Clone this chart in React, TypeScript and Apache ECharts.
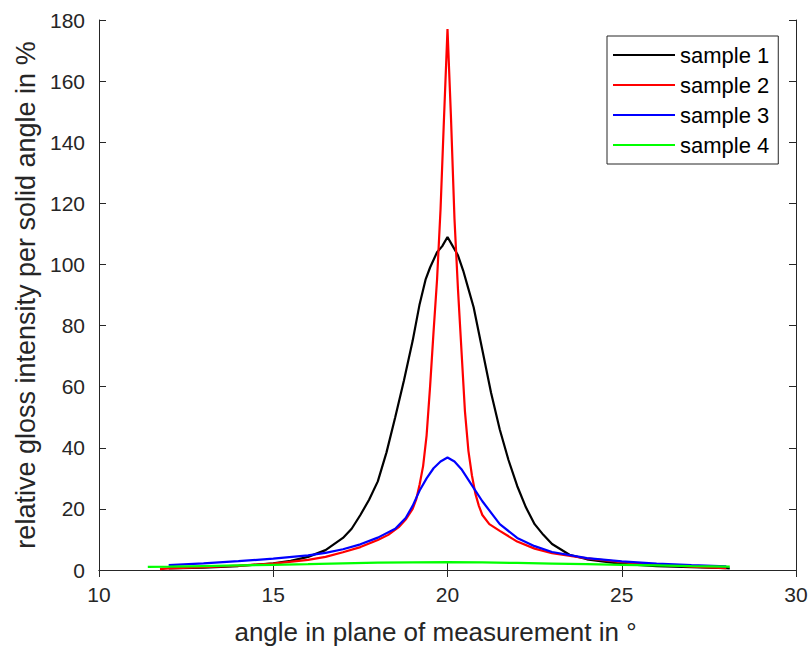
import React, { useEffect, useRef } from "react";
import * as echarts from "echarts";

const seriesNames = ["sample 1", "sample 2", "sample 3", "sample 4"];
const seriesColors = ["#000000", "#ff0000", "#0000ff", "#00ff00"];

const s1X = [12, 13, 14, 15, 15.5, 16, 16.5, 17, 17.25, 17.5, 17.75, 18, 18.25, 18.5, 18.75, 19, 19.2, 19.37, 19.5, 19.7, 19.85, 20, 20.15, 20.3, 20.45, 20.6, 20.75, 21, 21.25, 21.5, 21.75, 22, 22.25, 22.5, 22.75, 23, 23.5, 24, 25, 26, 27, 28, 28.1];
const s1Y = [0.5, 0.8, 1.3, 2.2, 3, 4.3, 6.5, 10.5, 13.5, 18, 23, 29, 38.5, 50, 62, 75, 87, 95, 99, 104, 106, 109, 106, 103, 98, 92, 86, 72, 58, 46, 36, 27.5, 20.5, 15, 11.5, 8.5, 5, 3.5, 2, 1.3, 0.9, 0.6, 0.5];

const s2X = [11.75, 12, 13, 14, 15, 16, 16.5, 17, 17.5, 18, 18.3, 18.6, 18.8, 19, 19.1, 19.2, 19.3, 19.4, 19.5, 19.6, 19.7, 19.8, 19.9, 20, 20.1, 20.2, 20.3, 20.4, 20.5, 20.6, 20.7, 20.8, 20.9, 21, 21.2, 21.5, 22, 22.5, 23, 24, 25, 26, 27, 28];
const s2Y = [0.3, 0.5, 0.9, 1.4, 2.1, 3.3, 4.3, 5.8, 7.5, 9.8, 11.5, 14, 16.5, 20, 23, 28, 34, 44, 60, 78, 95, 118, 148, 177, 148, 115, 92, 72, 52, 39, 31, 25, 21, 18, 15, 12.8, 9.3, 7, 5.5, 3.8, 2.6, 1.8, 1.1, 0.6];

const s3X = [12, 13, 14, 15, 16, 16.5, 17, 17.5, 18, 18.5, 18.8, 19, 19.2, 19.4, 19.6, 19.8, 20, 20.2, 20.4, 20.6, 20.8, 21, 21.5, 22, 22.5, 23, 24, 25, 26, 27, 28];
const s3Y = [1.6, 2.2, 2.9, 3.7, 4.8, 5.6, 6.8, 8.4, 10.6, 13.5, 17, 21, 26, 30, 33.3, 35.5, 36.8, 35.5, 33, 29.5, 26, 22.5, 15, 10.5, 7.8, 5.9, 3.9, 2.8, 2.1, 1.6, 1.2];

const s4X = [11.4, 12, 13, 14, 15, 16, 17, 18, 19, 20, 21, 22, 23, 24, 25, 26, 27, 28.1];
const s4Y = [1.0, 1.1, 1.3, 1.5, 1.7, 1.9, 2.2, 2.4, 2.5, 2.6, 2.5, 2.3, 2.1, 1.9, 1.7, 1.5, 1.3, 1.1];

const xTitle = "angle in plane of measurement in °";
const yTitle = "relative gloss intensity per solid angle in %";

const allX = [s1X, s2X, s3X, s4X];
const allY = [s1Y, s2Y, s3Y, s4Y];

const FONT = "'Liberation Sans', Arial, Helvetica, sans-serif";
const AX = "#262626";

export default function App() {
  const ref = useRef<HTMLDivElement>(null);
  useEffect(() => {
    if (!ref.current) return;
    const chart = echarts.init(ref.current, null, { renderer: "svg" });
    const axisLine = { show: true, lineStyle: { color: AX, width: 1 } };
    const tick = { show: true, inside: true, length: 7, lineStyle: { color: AX, width: 1 } };
    chart.setOption({
      animation: false,
      backgroundColor: "#ffffff",
      grid: { left: 99, right: 15, top: 20, bottom: 77, containLabel: false },
      legend: {
        data: seriesNames,
        orient: "vertical",
        left: 607,
        top: 36,
        icon: "rect",
        itemWidth: 62,
        itemHeight: 2,
        itemGap: 8,
        padding: [8, 9, 8, 6],
        borderColor: AX,
        borderWidth: 1,
        backgroundColor: "#ffffff",
        textStyle: { fontSize: 22, lineHeight: 22, color: "#000", fontFamily: FONT },
      },
      xAxis: [
        {
          type: "value",
          min: 10,
          max: 30,
          interval: 5,
          axisLine,
          axisTick: tick,
          splitLine: { show: false },
          axisLabel: { fontSize: 21, color: AX, margin: 14, fontFamily: FONT },
          name: xTitle,
          nameLocation: "middle",
          nameGap: 49,
          nameTextStyle: { fontSize: 26, color: AX, fontFamily: FONT, padding: [0, 24, 0, 0] },
        },
        {
          type: "value",
          position: "top",
          min: 10,
          max: 30,
          interval: 5,
          axisLine,
          axisTick: tick,
          splitLine: { show: false },
          axisLabel: { show: false },
        },
      ],
      yAxis: [
        {
          type: "value",
          min: 0,
          max: 180,
          interval: 20,
          axisLine,
          axisTick: tick,
          splitLine: { show: false },
          axisLabel: { fontSize: 21, color: AX, margin: 14, fontFamily: FONT },
          name: yTitle,
          nameLocation: "middle",
          nameGap: 56,
          nameTextStyle: { fontSize: 27, color: AX, fontFamily: FONT },
        },
        {
          type: "value",
          position: "right",
          min: 0,
          max: 180,
          interval: 20,
          axisLine,
          axisTick: tick,
          splitLine: { show: false },
          axisLabel: { show: false },
        },
      ],
      series: seriesNames.map((name, i) => ({
        name,
        type: "line",
        xAxisIndex: 0,
        yAxisIndex: 0,
        showSymbol: false,
        symbol: "none",
        smooth: false,
        color: seriesColors[i],
        lineStyle: { color: seriesColors[i], width: 2.2 },
        data: allX[i].map((x, j) => [x, allY[i][j]]),
      })),
    });
    return () => chart.dispose();
  }, []);
  return (
    <div
      ref={ref}
      style={{ position: "fixed", left: 0, top: 0, width: 811, height: 650, background: "#fff" }}
    />
  );
}
